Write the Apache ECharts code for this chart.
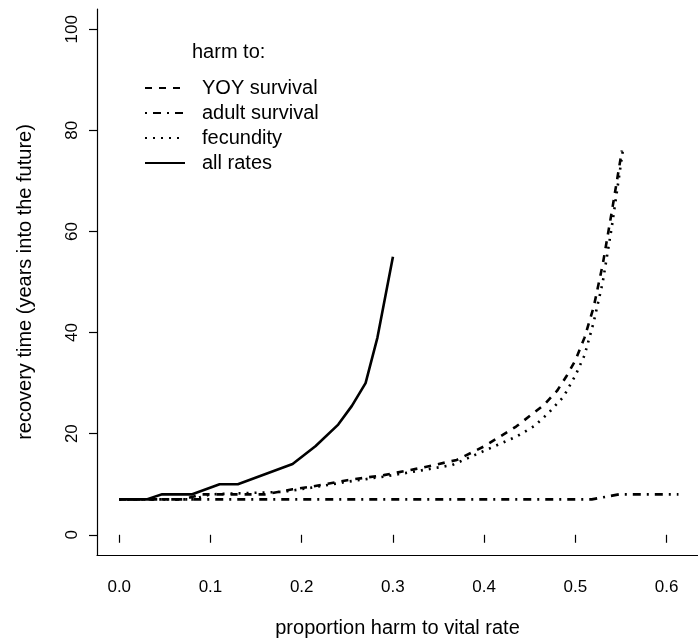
<!DOCTYPE html>
<html>
<head>
<meta charset="utf-8">
<script src="https://cdn.jsdelivr.net/npm/echarts@6/dist/echarts.min.js"></script>
<style>
  html, body { margin: 0; padding: 0; background: #fff; }
  #chart { width: 698px; height: 640px; }
</style>
</head>
<body>
<div id="chart"></div>
<script>
// recovery time curves as [harm, years]
var yoySurvival = [
  [0, 7], [0.07, 7], [0.09, 8], [0.16, 8], [0.19, 9], [0.21, 9.5], [0.25, 10.8],
  [0.29, 11.8], [0.33, 13.2], [0.37, 14.8], [0.40, 17.5], [0.435, 21.4],
  [0.465, 25.6], [0.48, 28.5], [0.49, 31.3], [0.50, 34.5], [0.51, 39],
  [0.52, 45], [0.53, 53.5], [0.54, 64], [0.551, 76]
];
var adultSurvival = [
  [0, 7], [0.518, 7], [0.548, 8], [0.613, 8]
];
var fecundity = [
  [0, 7], [0.08, 7], [0.10, 8], [0.18, 8.5], [0.21, 9.3], [0.25, 10.5],
  [0.29, 11.5], [0.33, 12.7], [0.365, 13.8], [0.39, 15.8], [0.415, 17.8],
  [0.435, 19.4], [0.455, 21.5], [0.47, 24], [0.487, 27.3], [0.50, 31.5],
  [0.51, 35.5], [0.52, 42], [0.53, 50], [0.54, 61], [0.552, 76]
];
var allRates = [
  [0, 7], [0.03, 7], [0.047, 8], [0.08, 8], [0.11, 10], [0.13, 10],
  [0.19, 14], [0.215, 17.5], [0.24, 21.8], [0.255, 25.5], [0.27, 30],
  [0.283, 39], [0.30, 55]
];
var seriesNames = ['YOY survival', 'adult survival', 'fecundity', 'all rates'];
var xTicks = [0, 0.1, 0.2, 0.3, 0.4, 0.5, 0.6];
var yTicks = [0, 20, 40, 60, 80, 100];

var chart = echarts.init(document.getElementById('chart'));
var font = 'Liberation Sans, Arial, sans-serif';

function line(name, data, type) {
  return {
    name: name,
    type: 'line',
    data: data,
    xAxisIndex: 0,
    showSymbol: false,
    symbol: 'none',
    silent: true,
    lineStyle: { color: '#000', width: 2.6, type: type },
    itemStyle: { color: '#000' }
  };
}

var option = {
  animation: false,
  textStyle: { fontFamily: font, color: '#000' },
  title: {
    text: 'harm to:',
    left: 187,
    top: 37,
    textStyle: { fontFamily: font, fontSize: 20, fontWeight: 'normal', color: '#000' }
  },
  legend: {
    orient: 'vertical',
    left: 139,
    top: 73,
    itemWidth: 40,
    itemHeight: 14,
    itemGap: 5,
    data: seriesNames,
    itemStyle: { opacity: 0 },
    textStyle: { fontFamily: font, fontSize: 20, color: '#000', lineHeight: 20, padding: [0, 0, 0, 12] }
  },
  grid: { left: 97, right: 0, top: 9, bottom: 85, outerBoundsMode: 'none' },
  xAxis: [{
    type: 'value',
    min: -0.0244,
    max: 0.6344,
    position: 'bottom',
    axisLine: { show: true, onZero: false, lineStyle: { color: '#000', width: 1.2 } },
    axisTick: { show: false },
    axisLabel: { show: false },
    splitLine: { show: false }
  }, {
    type: 'value',
    min: -0.0244,
    max: 0.6344,
    position: 'bottom',
    offset: 3,
    axisLine: { show: false },
    axisTick: { show: true, length: 8, customValues: xTicks, lineStyle: { color: '#000', width: 1.2 } },
    axisLabel: {
      customValues: xTicks,
      margin: 21,
      fontSize: 17,
      color: '#000',
      fontFamily: font,
      formatter: function (v) { return v.toFixed(1); }
    },
    splitLine: { show: false },
    name: 'proportion harm to vital rate',
    nameLocation: 'middle',
    nameGap: 60,
    nameTextStyle: { fontFamily: font, fontSize: 20, color: '#000' }
  }],
  yAxis: {
    type: 'value',
    min: -4,
    max: 104,
    axisLine: { show: true, onZero: false, lineStyle: { color: '#000', width: 1.2 } },
    axisTick: { show: true, length: 8, customValues: yTicks, lineStyle: { color: '#000', width: 1.2 } },
    axisLabel: {
      customValues: yTicks,
      rotate: 90,
      margin: 16,
      fontSize: 17,
      color: '#000',
      fontFamily: font
    },
    splitLine: { show: false },
    name: 'recovery time (years into the future)',
    nameLocation: 'middle',
    nameGap: 62,
    nameTextStyle: { fontFamily: font, fontSize: 20, color: '#000' }
  },
  series: [
    line(seriesNames[0], yoySurvival, [7, 7]),
    line(seriesNames[1], adultSurvival, [2, 6, 8, 6]),
    line(seriesNames[2], fecundity, [2, 6]),
    line(seriesNames[3], allRates, 'solid')
  ]
};
chart.setOption(option);
</script>
</body>
</html>
